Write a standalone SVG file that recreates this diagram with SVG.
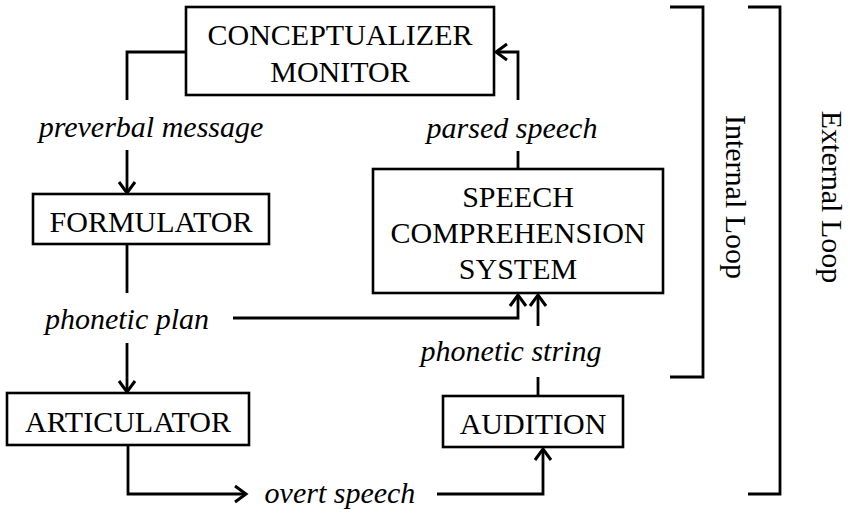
<svg xmlns="http://www.w3.org/2000/svg" width="850" height="522" viewBox="0 0 850 522">
<style>
.box{fill:#fff;stroke:#000;stroke-width:2.6}
.lbl{font-family:"Liberation Serif","Times New Roman",serif;font-size:30px;fill:#000;text-anchor:middle}
.it{font-family:"Liberation Serif","Times New Roman",serif;font-size:30px;font-style:italic;fill:#000;text-anchor:middle}
.ln{fill:none;stroke:#000;stroke-width:2.8}
.arr{marker-end:url(#ah)}
</style>
<defs>
<marker id="ah" markerUnits="userSpaceOnUse" markerWidth="30" markerHeight="30" refX="0" refY="0" viewBox="-15 -15 30 30" orient="auto" overflow="visible">
<path d="M-11,-8 L0,0 L-11,8" fill="none" stroke="#000" stroke-width="3" stroke-linejoin="miter"/>
</marker>
</defs>
<g id="connectors">
<path class="ln" d="M186,52 H127 V100"/>
<path class="ln arr" d="M127,150 V193"/>
<path class="ln" d="M127,244 V293"/>
<path class="ln arr" d="M127,343 V392"/>
<path class="ln arr" d="M233,318 H518 V295"/>
<path class="ln" d="M518,169 V151"/>
<path class="ln arr" d="M518,100 V52 H496"/>
<path class="ln arr" d="M128,445 V494 H246"/>
<path class="ln arr" d="M437,494 H543 V449"/>
<path class="ln" d="M538,396 V377"/>
<path class="ln arr" d="M538,326 V295"/>
</g>
<g id="conceptualizer">
<rect class="box" x="186" y="7" width="308" height="88"/>
<text class="lbl" x="340" y="45">CONCEPTUALIZER</text>
<text class="lbl" x="340" y="82">MONITOR</text>
</g>
<g id="formulator">
<rect class="box" x="33" y="194" width="236" height="50"/>
<text class="lbl" x="151" y="232">FORMULATOR</text>
</g>
<g id="speech-comprehension">
<rect class="box" x="373" y="169" width="290" height="124"/>
<text class="lbl" x="518" y="207">SPEECH</text>
<text class="lbl" x="518" y="243">COMPREHENSION</text>
<text class="lbl" x="518" y="279">SYSTEM</text>
</g>
<g id="articulator">
<rect class="box" x="7" y="393" width="242" height="52"/>
<text class="lbl" x="128" y="432">ARTICULATOR</text>
</g>
<g id="audition">
<rect class="box" x="443" y="396" width="180" height="51"/>
<text class="lbl" x="533" y="434">AUDITION</text>
</g>
<g id="labels">
<text class="it" x="151" y="137">preverbal message</text>
<text class="it" x="512" y="138">parsed speech</text>
<text class="it" x="127" y="329">phonetic plan</text>
<text class="it" x="511" y="361">phonetic string</text>
<text class="it" x="340" y="503">overt speech</text>
</g>
<g id="internal-loop">
<path class="ln" d="M670,7 H703 V377 H670"/>
<text class="lbl" transform="translate(726,197) rotate(90)">Internal Loop</text>
</g>
<g id="external-loop">
<path class="ln" d="M748,7 H780 V494 H748"/>
<text class="lbl" transform="translate(822,197) rotate(90)">External Loop</text>
</g>
</svg>
